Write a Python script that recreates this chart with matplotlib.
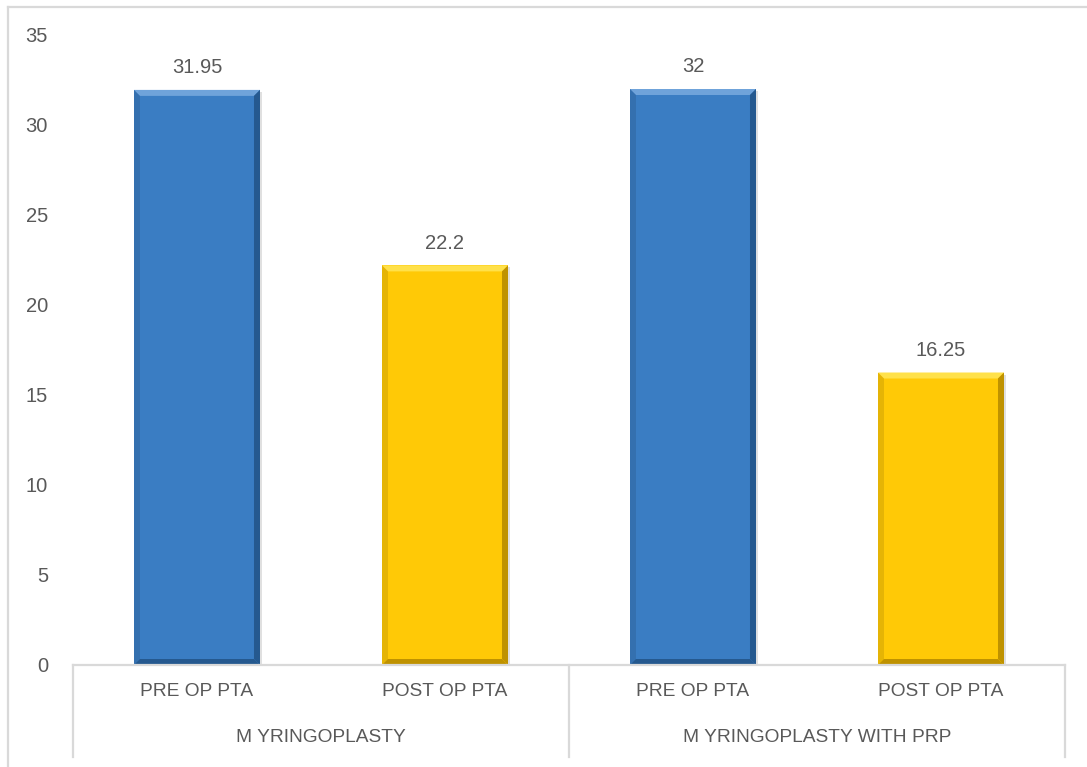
import matplotlib.pyplot as plt
from matplotlib.patches import Polygon, Rectangle
from matplotlib.lines import Line2D

plt.rcParams['font.family'] = ['Liberation Sans', 'DejaVu Sans']

groups = ["M YRINGOPLASTY", "M YRINGOPLASTY WITH PRP"]
subcats = ["PRE OP PTA", "POST OP PTA"]
values = [31.95, 22.2, 32, 16.25]
value_labels = ["31.95", "22.2", "32", "16.25"]

fill = {"PRE OP PTA": "#3A7DC3", "POST OP PTA": "#FFC906"}
light = {"PRE OP PTA": "#6FA3DA", "POST OP PTA": "#FFE14A"}
dark = {"PRE OP PTA": "#25598F", "POST OP PTA": "#BF9200"}
grey_txt = "#595959"
grid_c = "#D9D9D9"

W, H = 1087, 767
fig = plt.figure(figsize=(W / 100, H / 100), dpi=100)
ax = fig.add_axes([73 / W, 1 - 665 / H, (1065 - 73) / W, (665 - 35) / H])

n = len(groups) * len(subcats)
xs = list(range(n))
cats = [s for g in groups for s in subcats]
bw = 0.508

ax.set_xlim(-0.5, n - 0.5)
ax.set_ylim(0, 35)

# pixel -> data conversion for the bevel edges
px_x = n / (1065 - 73)
px_y = 35 / (665 - 35)

for x, v, c, lab in zip(xs, values, cats, value_labels):
    x0, x1 = x - bw / 2, x + bw / 2
    # soft drop shadow
    ax.add_patch(Rectangle((x0 + 2 * px_x, -2 * px_y), bw, v, color="#000000",
                           alpha=0.12, lw=0, zorder=1))
    ax.bar(x, v, width=bw, color=fill[c], zorder=2, linewidth=0)
    bx, by = 6 * px_x, 6 * px_y
    # top bevel
    ax.add_patch(Polygon([(x0, v), (x1, v), (x1 - bx, v - by), (x0 + bx, v - by)],
                         closed=True, color=light[c], lw=0, zorder=3))
    # right bevel
    ax.add_patch(Polygon([(x1, v), (x1, 0), (x1 - bx, by), (x1 - bx, v - by)],
                         closed=True, color=dark[c], lw=0, zorder=3))
    # bottom bevel
    ax.add_patch(Polygon([(x0, 0), (x1, 0), (x1 - bx, by), (x0 + bx, by)],
                         closed=True, color=dark[c], lw=0, zorder=3))
    # left bevel, slightly shaded
    ax.add_patch(Polygon([(x0, 0), (x0, v), (x0 + bx, v - by), (x0 + bx, by)],
                         closed=True, color="#000000", lw=0, zorder=3, alpha=0.10))
    ax.text(x, v + 22 * px_y, lab, ha="center", va="center",
            fontsize=14.5, color=grey_txt)

for s in ax.spines.values():
    s.set_visible(False)
ax.set_xticks([])
ax.set_yticks(range(0, 36, 5))
ax.tick_params(axis="y", length=0, pad=18, labelsize=14.5, labelcolor=grey_txt)
for t in ax.get_yticklabels():
    t.set_horizontalalignment("right")

# category axis: baseline, separators and two levels of labels
tr = ax.get_xaxis_transform()
ax.plot([-0.5, n - 0.5], [0, 0], color=grid_c, lw=1.6, transform=tr,
        clip_on=False, zorder=4)
sep_bottom = -(757 - 665) / (665 - 35)
for sx in [-0.5, 1.5, n - 0.5]:
    ax.plot([sx, sx], [0, sep_bottom], color=grid_c, lw=1.6, transform=tr,
            clip_on=False)
for x, c in zip(xs, cats):
    ax.text(x, -(692 - 665) / (665 - 35), c, transform=tr, ha="center",
            va="center", fontsize=13.8, color=grey_txt)
for i, g in enumerate(groups):
    ax.text(i * 2 + 0.5, -(737 - 665) / (665 - 35), g, transform=tr,
            ha="center", va="center", fontsize=13.8, color=grey_txt)

# chart-area border
fig.add_artist(Line2D([8 / W, 8 / W], [0, 1 - 7 / H], color=grid_c, lw=1.6))
fig.add_artist(Line2D([8 / W, 1], [1 - 7 / H, 1 - 7 / H], color=grid_c, lw=1.6))

fig.savefig("out.png", dpi=100)
